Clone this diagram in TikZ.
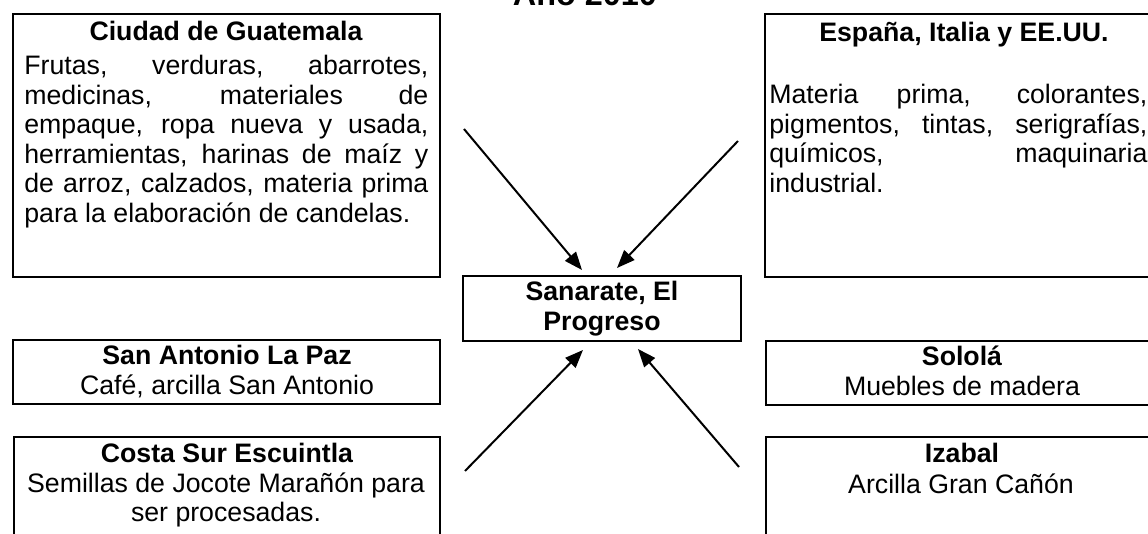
\documentclass[tikz,border=0pt]{standalone}
\usepackage{fontspec}
\setmainfont{Liberation Sans}
\usetikzlibrary{arrows.meta,fit}
\newcommand\bodyfs{\fontsize{13.35pt}{14.75pt}\selectfont}
\newcommand\titlefs{\fontsize{16.2pt}{18pt}\selectfont\bfseries}
\begin{document}
\begin{tikzpicture}[x=0.5pt,y=-0.5pt,
  box/.style={draw, line width=1pt, inner sep=0pt, rectangle},
  hd/.style={anchor=base, inner sep=0pt, font=\bodyfs\bfseries},
  tx/.style={anchor=base, inner sep=0pt, font=\bodyfs},
  txl/.style={anchor=base west, inner sep=0pt, font=\bodyfs},
  arr/.style={line width=1pt, -{Triangle[length=9pt,width=7pt]}}]
\useasboundingbox (0,0) rectangle (1148,534);
\clip (0,0) rectangle (1148,534);

% title (cut at top)
\node[anchor=base, inner sep=0pt, font=\titlefs] (title) at (585,6) {Año 2010};

% boxes
\node[box, fit={(13,14) (440,277)}] (gua) {};
\node[box, fit={(765,14) (1160,277)}] (esp) {};
\node[box, fit={(463,276) (741,341)}] (cen) {};
\node[box, fit={(13,340) (440,404)}] (sal) {};
\node[box, fit={(766,341) (1160,405)}] (sol) {};
\node[box, fit={(14,437) (440,560)}] (cos) {};
\node[box, fit={(766,437) (1160,560)}] (iza) {};

% Ciudad de Guatemala
\node[hd] (guaH) at (226,41) {Ciudad de Guatemala};
\node[txl] (gua1) at (24,75) {\makebox[202pt][s]{Frutas, verduras, abarrotes,}};
\node[txl] (gua2) at (24,104.5) {\makebox[202pt][s]{medicinas, materiales de}};
\node[txl] (gua3) at (24,134) {\makebox[202pt][s]{empaque, ropa nueva y usada,}};
\node[txl] (gua4) at (24,163.5) {\makebox[202pt][s]{herramientas, harinas de maíz y}};
\node[txl] (gua5) at (24,193) {\makebox[202pt][s]{de arroz, calzados, materia prima}};
\node[txl] (gua6) at (24,222.5) {para la elaboración de candelas.};

% España, Italia y EE.UU.
\node[hd] (espH) at (964,42) {España, Italia y EE.UU.};
\node[txl] (esp1) at (769,104) {\makebox[189pt][s]{Materia prima, colorantes,}};
\node[txl] (esp2) at (769,133.5) {\makebox[189pt][s]{pigmentos, tintas, serigrafías,}};
\node[txl] (esp3) at (769,163) {\makebox[189pt][s]{químicos, maquinaria}};
\node[txl] (esp4) at (769,192.5) {industrial.};

% center
\node[hd] (cen1) at (602,301) {Sanarate, El};
\node[hd] (cen2) at (602,331) {Progreso};

% San Antonio La Paz
\node[hd] (salH) at (227,365) {San Antonio La Paz};
\node[tx] (sal1) at (227,395) {Café, arcilla San Antonio};

% Sololá
\node[hd] (solH) at (962,366) {Sololá};
\node[tx] (sol1) at (962,396) {Muebles de madera};

% Costa Sur Escuintla
\node[hd] (cosH) at (227,463) {Costa Sur Escuintla};
\node[tx] (cos1) at (226,493) {Semillas de Jocote Marañón para};
\node[tx] (cos2) at (226,522) {ser procesadas.};

% Izabal
\node[hd] (izaH) at (962,463) {Izabal};
\node[tx] (iza1) at (961,494) {Arcilla Gran Cañón};

% arrows
\coordinate (t1s) at (464,129);
\coordinate (t1e) at (582,270);
\coordinate (t2s) at (738,141);
\coordinate (t2e) at (617,268);
\coordinate (b1s) at (465,471);
\coordinate (b1e) at (583,350);
\coordinate (b2s) at (739,467);
\coordinate (b2e) at (638,349);
\draw[arr] (t1s) -- (t1e);
\draw[arr] (t2s) -- (t2e);
\draw[arr] (b1s) -- (b1e);
\draw[arr] (b2s) -- (b2e);
\end{tikzpicture}
\end{document}
